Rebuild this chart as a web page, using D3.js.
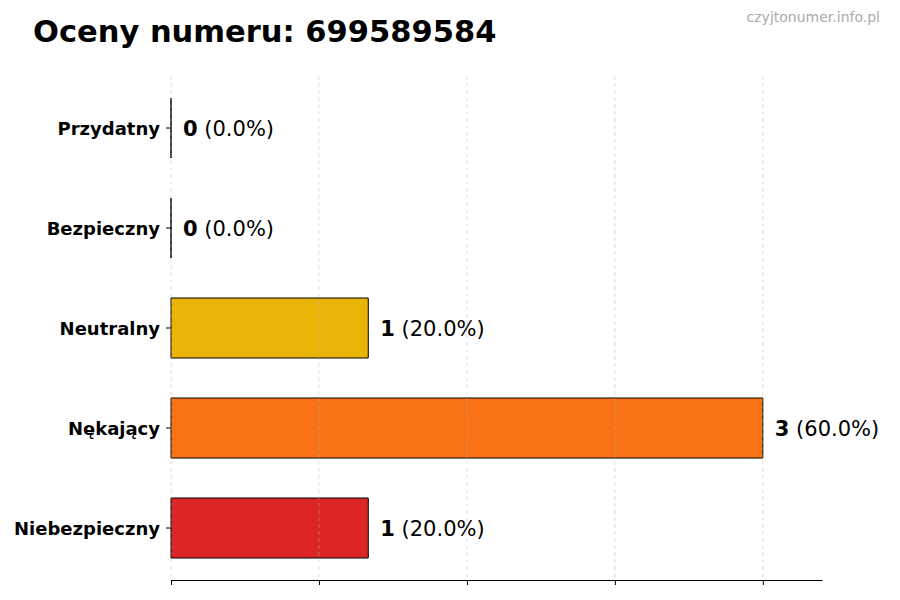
<!DOCTYPE html>
<html>
<head>
<meta charset="utf-8">
<script src="https://cdn.jsdelivr.net/npm/d3@7"></script>
<style>
  body { margin: 0; background: #fff; }
  svg { font-family: 'DejaVu Sans', sans-serif; }
</style>
</head>
<body>
<div id="chart"></div>
<script>
const categories = ['Przydatny', 'Bezpieczny', 'Neutralny', 'Nękający', 'Niebezpieczny'];
const counts = [0, 0, 1, 3, 1];
const colors = ['#22c55e', '#3b82f6', '#eab308', '#f97316', '#dc2626'];
const xTicks = [0, 0.75, 1.5, 2.25, 3];
const title = 'Oceny numeru: 699589584';
const watermark = 'czyjtonumer.info.pl';

const width = 900;
const height = 600;
const total = d3.sum(counts);

const svg = d3.select('#chart').append('svg').attr('width', width).attr('height', height);

const x = d3.scaleLinear().domain([0, 3.3]).range([171, 822]);
const y = d3.scaleBand().domain(categories).range([76, 580]).paddingInner(0.4).paddingOuter(0.22);

// bottom axis
const xAxis = svg
  .append('g')
  .attr('transform', `translate(0,580)`)
  .call(d3.axisBottom(x).tickValues(xTicks).tickFormat('').tickSize(5).tickSizeOuter(0));
xAxis.select('.domain').attr('stroke', '#000').attr('stroke-width', 1.2);
xAxis.selectAll('.tick line').attr('stroke', '#000').attr('stroke-width', 1);

// left axis (ticks and labels only)
const yAxis = svg
  .append('g')
  .attr('transform', `translate(171,0)`)
  .call(d3.axisLeft(y).tickSize(5).tickPadding(6));
yAxis.select('.domain').remove();
yAxis.selectAll('.tick line').attr('stroke', '#000');
yAxis
  .selectAll('.tick text')
  .attr('font-size', 18)
  .attr('font-weight', 'bold')
  .attr('font-family', 'DejaVu Sans, sans-serif')
  .attr('dy', '0.4em')
  .attr('fill', '#000');

// bars (paths so that zero-width bars still show their edge)
svg
  .append('g')
  .selectAll('path')
  .data(categories)
  .join('path')
  .attr('d', (d, i) => {
    const w = x(counts[i]) - x(0);
    return `M${x(0)},${y(d)}h${w}v${y.bandwidth()}h${-w}Z`;
  })
  .attr('fill', (d, i) => colors[i])
  .attr('stroke', '#000')
  .attr('stroke-width', 1);

// grid on top
svg
  .append('g')
  .selectAll('line')
  .data(xTicks)
  .join('line')
  .attr('x1', (d) => x(d))
  .attr('x2', (d) => x(d))
  .attr('y1', 76)
  .attr('y2', 580)
  .attr('stroke', '#b0b0b0')
  .attr('stroke-opacity', 0.55)
  .attr('stroke-dasharray', '4,3')
  .attr('stroke-width', 0.8);

// value labels
const labels = svg
  .append('g')
  .selectAll('text')
  .data(categories)
  .join('text')
  .attr('x', (d, i) => x(counts[i]) + 12)
  .attr('y', (d) => y(d) + y.bandwidth() / 2)
  .attr('dy', '0.37em')
  .attr('font-size', 21)
  .attr('fill', '#000');
labels
  .append('tspan')
  .attr('font-weight', 'bold')
  .text((d, i) => counts[i]);
labels.append('tspan').text((d, i) => ` (${((counts[i] / total) * 100).toFixed(1)}%)`);

svg
  .append('text')
  .attr('x', 33)
  .attr('y', 42)
  .attr('font-size', 30.5)
  .attr('font-weight', 'bold')
  .text(title);

svg
  .append('text')
  .attr('x', 880)
  .attr('y', 22)
  .attr('text-anchor', 'end')
  .attr('font-size', 14)
  .attr('fill', '#aaaaaa')
  .text(watermark);
</script>
</body>
</html>
